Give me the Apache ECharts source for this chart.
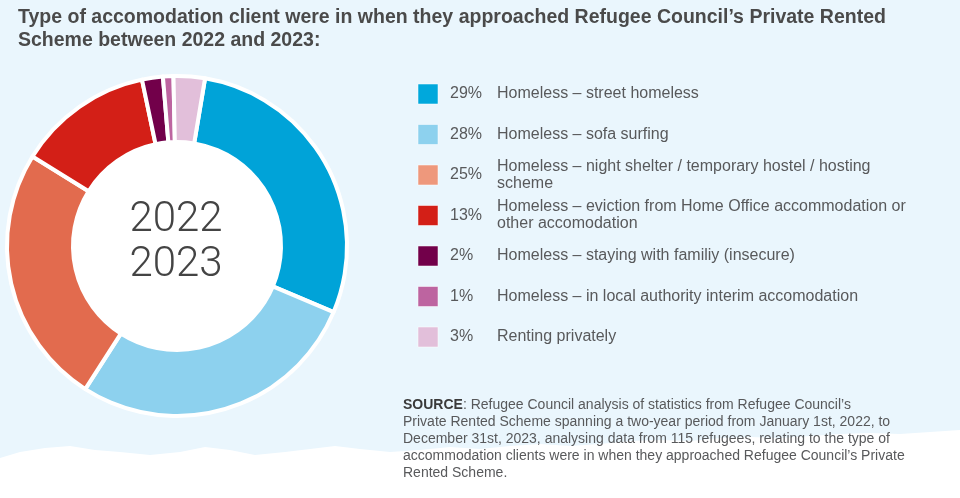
<!DOCTYPE html>
<html>
<head>
<meta charset="utf-8">
<script src="https://cdn.jsdelivr.net/npm/echarts@6/dist/echarts.min.js"></script>
<style>
html,body{margin:0;padding:0;background:#eaf6fd;}
#chart{width:960px;height:498px;}
</style>
</head>
<body>
<div id="chart"></div>
<script>
// ---- data ----
const titleText = 'Type of accomodation client were in when they approached Refugee Council\u2019s Private Rented\nScheme between 2022 and 2023:';
const centerText = '2022\n2023';
const categories = [
  'Homeless \u2013 street homeless',
  'Homeless \u2013 sofa surfing',
  'Homeless \u2013 night shelter / temporary hostel / hosting\nscheme',
  'Homeless \u2013 eviction from Home Office accommodation or\nother accomodation',
  'Homeless \u2013 staying with familiy (insecure)',
  'Homeless \u2013 in local authority interim accomodation',
  'Renting privately'
];
const values = [29, 28, 25, 13, 2, 1, 3];
const sourceLines = [
  '{b|SOURCE}: Refugee Council analysis of statistics from Refugee Council\u2019s',
  'Private Rented Scheme spanning a two-year period from January 1st, 2022, to',
  'December 31st, 2023, analysing data from 115 refugees, relating to the type of',
  'accommodation clients were in when they approached Refugee Council\u2019s Private',
  'Rented Scheme.'
];

// ---- styles ----
const sliceColors = ['#00a3d8', '#8dd1ee', '#e26b4e', '#d31f17', '#72004a', '#bd64a0', '#e2bfda'];
const keyColors   = ['#00a8dc', '#8dd1ee', '#ee987c', '#d31f17', '#72004a', '#bd64a0', '#e2bfda'];
const textColor = '#58595b';

const chart = echarts.init(document.getElementById('chart'));

const cx = 177, cy = 246;
const graphics = [];
// white paper bottom
graphics.push({
  type: 'polygon', z: -10, silent: true,
  shape: { points: [
    [0,458],[20,452],[45,448],[70,446],[95,450],[120,452],[150,455],[180,452],[205,447],[230,450],[255,455],
    [285,452],[310,449],[335,446],[360,449],[390,452],[420,450],[450,447],[480,449],[510,446],[540,444],
    [570,446],[600,444],[630,441],[660,440],[690,441],[720,438],[750,437],[780,438],[810,436],[840,434],
    [870,433],[900,434],[930,432],[960,430],[960,498],[0,498]
  ]},
  style: { fill: '#ffffff' }
});
// inner white hole
graphics.push({ type: 'circle', z: -5, silent: true, shape: { cx: cx, cy: cy, r: 106 }, style: { fill: '#ffffff' } });
// center text
graphics.push({
  type: 'text', z: 10, x: cx - 1, y: 243,
  style: { text: centerText, fill: '#444444', font: '300 42px Roboto, "Liberation Sans", Arial, sans-serif',
           align: 'center', verticalAlign: 'middle', lineHeight: 45 }
});
// title
graphics.push({
  type: 'text', z: 10, x: 18, y: 6,
  style: { text: titleText, fill: '#4a4a4a', font: 'bold 19.5px "Liberation Sans", Arial, sans-serif', lineHeight: 23 }
});
// key
const rowTop = 94, rowStep = 40.5;
categories.forEach(function (cat, i) {
  const yc = rowTop + i * rowStep;
  graphics.push({ type: 'rect', z: 10, shape: { x: 418, y: yc - 10, width: 20, height: 20 },
    style: { fill: keyColors[i], stroke: 'rgba(255,255,255,0.5)', lineWidth: 1 } });
  graphics.push({ type: 'text', z: 10, x: 450, y: yc,
    style: { text: values[i] + '%', fill: textColor, font: '16px "Liberation Sans", Arial, sans-serif', verticalAlign: 'middle' } });
  graphics.push({ type: 'text', z: 10, x: 497, y: yc,
    style: { text: cat, fill: textColor, font: '16px "Liberation Sans", Arial, sans-serif', verticalAlign: 'middle', lineHeight: 17 } });
});
// source
graphics.push({
  type: 'text', z: 10, x: 403, y: 397,
  style: { text: sourceLines.join('\n'), fill: textColor, font: '14px "Liberation Sans", Arial, sans-serif', lineHeight: 17,
    rich: { b: { fontWeight: 'bold', fontSize: 14, fill: '#3a3a3a', fontFamily: '"Liberation Sans", Arial, sans-serif' } } }
});

chart.setOption({
  backgroundColor: '#eaf6fd',
  animation: false,
  graphic: graphics,
  series: [{
    type: 'pie',
    center: [cx, cy],
    radius: [104, 170],
    startAngle: 80.5,
    clockwise: true,
    label: { show: false },
    labelLine: { show: false },
    emphasis: { disabled: true },
    itemStyle: { borderColor: '#ffffff', borderWidth: 4 },
    data: categories.map(function (c, i) {
      return { name: c, value: values[i], itemStyle: { color: sliceColors[i] } };
    })
  }]
});
</script>
</body>
</html>
